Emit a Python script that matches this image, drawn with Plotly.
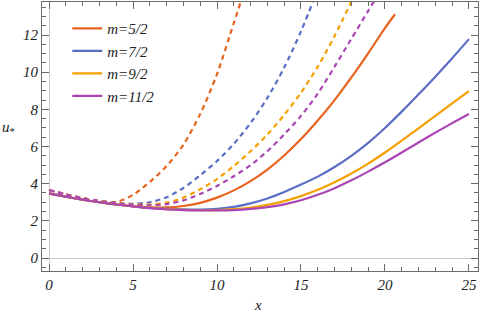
import plotly.graph_objects as go

# ---- data ----
labels = ["m=5/2", "m=7/2", "m=9/2", "m=11/2"]
colors = ["#E8641E", "#5B6EC6", "#F5A000", "#AA46B4"]

x_full = list(range(0, 26))

# solid curves
x_s52 = [0, 1, 2, 3, 4, 5, 6, 7, 8, 9, 10, 11, 12, 13, 14, 15, 16, 17, 18, 19, 20, 20.6]
u_s52 = [3.48, 3.30, 3.14, 3.00, 2.88, 2.78, 2.72, 2.72, 2.80, 2.97, 3.25, 3.64, 4.14, 4.76,
         5.52, 6.40, 7.40, 8.50, 9.72, 11.02, 12.38, 13.12]
u_s72 = [3.48, 3.30, 3.14, 3.00, 2.88, 2.78, 2.70, 2.65, 2.62, 2.61, 2.65, 2.75, 2.94, 3.20,
         3.55, 3.95, 4.38, 4.90, 5.50, 6.20, 7.00, 7.88, 8.81, 9.76, 10.75, 11.78]
u_s92 = [3.48, 3.30, 3.14, 3.00, 2.88, 2.78, 2.69, 2.63, 2.59, 2.57, 2.58, 2.63, 2.72, 2.86,
         3.06, 3.33, 3.67, 4.08, 4.55, 5.08, 5.68, 6.32, 6.98, 7.65, 8.32, 8.98]
u_s112 = [3.48, 3.30, 3.14, 3.00, 2.88, 2.78, 2.68, 2.62, 2.58, 2.56, 2.56, 2.58, 2.64, 2.74,
          2.89, 3.11, 3.40, 3.76, 4.18, 4.65, 5.15, 5.68, 6.22, 6.75, 7.26, 7.75]

# dashed curves
x_d52 = [0, 1, 2, 3, 4, 5, 6, 7, 8, 9, 10, 11, 11.6]
u_d52 = [3.66, 3.42, 3.22, 3.07, 3.02, 3.40, 4.10, 4.95, 6.10, 7.75, 9.90, 12.65, 14.30]
x_d72 = list(range(0, 17))
u_d72 = [3.66, 3.42, 3.22, 3.07, 2.96, 2.92, 3.00, 3.27, 3.77, 4.45, 5.22, 6.14, 7.27, 8.62,
         10.25, 12.20, 14.45]
x_d92 = list(range(0, 19))
u_d92 = [3.66, 3.42, 3.22, 3.07, 2.96, 2.89, 2.88, 2.98, 3.25, 3.70, 4.25, 4.95, 5.75, 6.65,
         7.70, 8.90, 10.30, 11.95, 13.80]
x_d112 = list(range(0, 21))
u_d112 = [3.66, 3.42, 3.22, 3.07, 2.95, 2.87, 2.84, 2.90, 3.10, 3.45, 3.88, 4.40, 5.00, 5.75,
          6.65, 7.65, 8.85, 10.30, 11.80, 13.30, 14.80]

solid = [(x_s52, u_s52), (x_full, u_s72), (x_full, u_s92), (x_full, u_s112)]
dashed = [(x_d52, u_d52), (x_d72, u_d72), (x_d92, u_d92), (x_d112, u_d112)]

x_ticks = [0, 5, 10, 15, 20, 25]
y_ticks = [0, 2, 4, 6, 8, 10, 12]

SERIF = "Liberation Serif"

fig = go.Figure()
for (xs, ys), c in zip(dashed, colors):
    fig.add_trace(go.Scatter(x=xs, y=ys, mode="lines", showlegend=False,
                             line=dict(color=c, width=2.2, dash="5px,4px", shape="spline",
                                       smoothing=0.8)))
for (xs, ys), c, lab in zip(solid, colors, labels):
    fig.add_trace(go.Scatter(x=xs, y=ys, mode="lines", name="<i>" + lab + "</i>",
                             line=dict(color=c, width=2.2, shape="spline", smoothing=0.8)))

tickfont = dict(family=SERIF, size=15, color="#222")
frame = "#6b6b6b"
common = dict(ticks="inside", ticklen=7, tickcolor=frame, showline=True, linecolor=frame,
              linewidth=1.2, mirror="allticks", showgrid=False, zeroline=True,
              zerolinecolor="#c8c8c8", zerolinewidth=1, tickfont=tickfont, automargin=False)
fig.update_xaxes(range=[-0.42, 25.54], tickvals=x_ticks,
                 ticktext=["<i>%d</i>" % v for v in x_ticks],
                 minor=dict(dtick=1, ticklen=4, tickcolor=frame, ticks="inside", showgrid=False),
                 **common)
fig.update_yaxes(range=[-0.70, 13.78], tickvals=y_ticks,
                 ticktext=["<i>%d</i>" % v for v in y_ticks],
                 minor=dict(dtick=0.5, ticklen=4, tickcolor=frame, ticks="inside", showgrid=False),
                 **common)

fig.add_annotation(text="<i>x</i>", xref="paper", yref="paper", x=(258 - 42) / 436,
                   y=-(305 - 271) / 269, showarrow=False, yanchor="middle",
                   font=dict(family=SERIF, size=15, color="#222"))
fig.add_annotation(text="<i>u</i><sub>*</sub>", xref="paper", yref="paper",
                   x=-(42 - 8) / 436, y=1 - (128 - 2) / 269, showarrow=False,
                   xanchor="center", yanchor="middle",
                   font=dict(family=SERIF, size=15, color="#222"))

fig.update_layout(
    width=480, height=317,
    margin=dict(l=42, r=2, t=2, b=46, autoexpand=False),
    plot_bgcolor="white", paper_bgcolor="white",
    legend=dict(x=0.058, y=0.962, xanchor="left", yanchor="top", bgcolor="rgba(0,0,0,0)",
                font=dict(family=SERIF, size=15, color="#222"),
                itemwidth=30, tracegroupgap=0),
)

fig.write_html("out.html", config={"displayModeBar": False},
               post_script="document.body.style.margin='0';document.body.style.overflow='hidden';")
